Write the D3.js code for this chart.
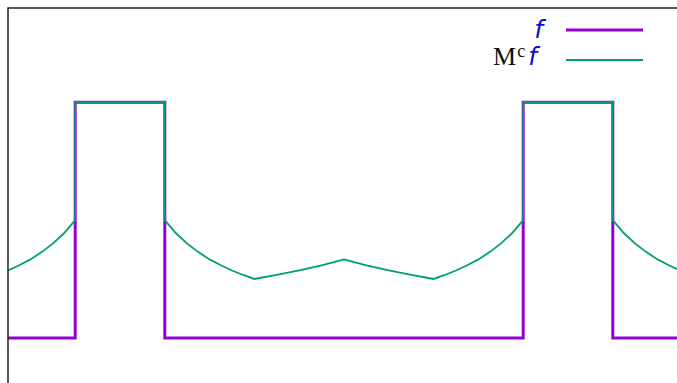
<!DOCTYPE html>
<html>
<head>
<meta charset="utf-8">
<script src="https://cdn.jsdelivr.net/npm/d3@7"></script>
<style>
  html, body { margin: 0; padding: 0; background: #fff; }
  svg { display: block; }
</style>
</head>
<body>
<svg id="chart" width="677" height="383"></svg>
<script>
// f: indicator of an interval, repeated with period 1
const fX = [-0.25, -0.1, -0.1, 0.1, 0.1, 0.9, 0.9, 1.1, 1.1, 1.25];
const fY = [0, 0, 1, 1, 0, 0, 1, 1, 0, 0];

// M^c f
const mcX = [-0.25, -0.225, -0.2, -0.175, -0.15, -0.125, -0.1, -0.1, 0.1, 0.1,
  0.125, 0.15, 0.175, 0.2, 0.225, 0.25, 0.275, 0.3, 0.35, 0.4, 0.45, 0.5,
  0.55, 0.6, 0.65, 0.7, 0.725, 0.75, 0.775, 0.8, 0.825, 0.85, 0.875, 0.9, 0.9,
  1.1, 1.1, 1.125, 1.15, 1.175, 1.2, 1.225, 1.25];
const mcY = [0.286, 0.308, 0.333, 0.364, 0.4, 0.444, 0.5, 1, 1, 0.5,
  0.444, 0.4, 0.364, 0.333, 0.308, 0.286, 0.267, 0.25, 0.267, 0.286, 0.308, 0.333,
  0.308, 0.286, 0.267, 0.25, 0.267, 0.286, 0.308, 0.333, 0.364, 0.4, 0.444, 0.5, 1,
  1, 0.5, 0.444, 0.4, 0.364, 0.333, 0.308, 0.286];

const xDomain = [-0.25, 1.25];
const yDomain = [-0.2, 1.4];

(function () {
  const svg = d3.select('#chart');
  const left = 8, top = 8, right = 680, bottom = 385;

  const x = d3.scaleLinear().domain(xDomain).range([left, right]);
  const y = d3.scaleLinear().domain(yDomain).range([bottom, top]);

  svg.append('defs').append('clipPath').attr('id', 'plot-clip')
    .append('rect')
    .attr('x', left).attr('y', top)
    .attr('width', right - left).attr('height', bottom - top);

  const line = d3.line()
    .x(function (d) { return x(d[0]); })
    .y(function (d) { return y(d[1]); });

  const plot = svg.append('g').attr('clip-path', 'url(#plot-clip)');

  plot.append('path')
    .datum(d3.zip(fX, fY))
    .attr('d', line)
    .attr('fill', 'none')
    .attr('stroke', '#9400d3')
    .attr('stroke-width', 3)
    .attr('stroke-linejoin', 'miter');

  plot.append('path')
    .datum(d3.zip(mcX, mcY))
    .attr('d', line)
    .attr('fill', 'none')
    .attr('stroke', '#009e73')
    .attr('stroke-width', 1.8)
    .attr('stroke-linejoin', 'miter');

  // border (right and bottom edges fall outside the window)
  svg.append('rect')
    .attr('x', left).attr('y', top)
    .attr('width', right - left).attr('height', bottom - top)
    .attr('fill', 'none')
    .attr('stroke', '#222')
    .attr('stroke-width', 1.5);

  // legend
  const legend = svg.append('g');
  const blue = '#0d0dd4';

  legend.append('text')
    .attr('x', 543).attr('y', 38)
    .attr('text-anchor', 'end')
    .attr('font-family', 'DejaVu Sans')
    .attr('font-style', 'italic')
    .attr('font-size', 25)
    .attr('fill', blue)
    .text('f');

  legend.append('line')
    .attr('x1', 566).attr('x2', 643)
    .attr('y1', 30).attr('y2', 30)
    .attr('stroke', '#9400d3')
    .attr('stroke-width', 3);

  const mc = legend.append('text')
    .attr('x', 493).attr('y', 65);
  mc.append('tspan')
    .attr('font-family', 'Liberation Serif')
    .attr('font-size', 26)
    .attr('fill', '#111')
    .text('M');
  mc.append('tspan')
    .attr('font-family', 'Liberation Serif')
    .attr('font-size', 18)
    .attr('dy', -8)
    .attr('dx', 1)
    .attr('fill', '#111')
    .text('c');
  mc.append('tspan')
    .attr('font-family', 'DejaVu Sans')
    .attr('font-style', 'italic')
    .attr('font-size', 25)
    .attr('dy', 8)
    .attr('dx', 3)
    .attr('fill', blue)
    .text('f');

  legend.append('line')
    .attr('x1', 566).attr('x2', 643)
    .attr('y1', 60).attr('y2', 60)
    .attr('stroke', '#009e73')
    .attr('stroke-width', 1.8);
})();
</script>
</body>
</html>
